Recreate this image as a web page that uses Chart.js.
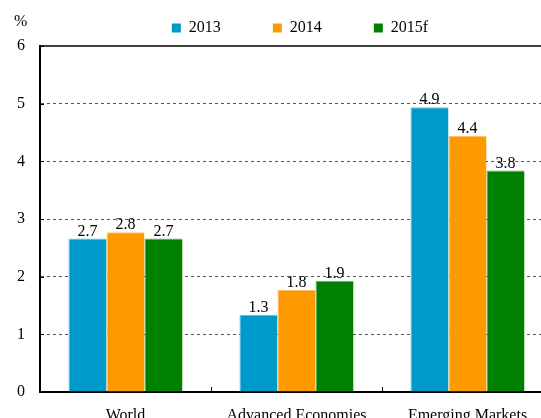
<!DOCTYPE html>
<html>
<head>
<meta charset="utf-8">
<script src="https://cdn.jsdelivr.net/npm/chart.js@4/dist/chart.umd.min.js"></script>
<style>
  html, body { margin: 0; padding: 0; background: #fff; overflow: hidden; }
  #wrap { position: relative; width: 600px; height: 418px; }
</style>
</head>
<body>
<div id="wrap"><canvas id="chart"></canvas></div>
<script>
// data
const categories = ['World', 'Advanced Economies', 'Emerging Markets'];
const seriesNames = ['2013', '2014', '2015f'];
const values2013 = [2.66, 1.34, 4.94];
const values2014 = [2.77, 1.77, 4.44];
const values2015 = [2.66, 1.93, 3.84];
const yTicks = [0, 1, 2, 3, 4, 5, 6];

const colors = ['#0099CC', '#FF9900', '#008000'];
const edgeColors = ['#66c2e0', '#ffc266', '#66b366'];
const serif = "'Liberation Serif', 'Times New Roman', serif";

// labels above bars, inner tick marks, top frame line and the % sign
const extras = {
    id: 'extras',
    afterDatasetsDraw(chart) {
        const ctx = chart.ctx;
        const area = chart.chartArea;
        const x = chart.scales.x;
        const y = chart.scales.y;

        ctx.save();
        ctx.fillStyle = '#000';
        ctx.font = '16px ' + serif;
        ctx.textAlign = 'center';
        ctx.textBaseline = 'bottom';
        chart.data.datasets.forEach((ds, i) => {
            const meta = chart.getDatasetMeta(i);
            meta.data.forEach((bar, j) => {
                ctx.fillText(ds.data[j].toFixed(1), bar.x, bar.y + 1);
            });
        });

        // top frame
        ctx.strokeStyle = '#000';
        ctx.lineWidth = 1.5;
        ctx.beginPath();
        ctx.moveTo(area.left, y.getPixelForValue(6));
        ctx.lineTo(area.right, y.getPixelForValue(6));
        ctx.stroke();

        // inward ticks on the y axis
        ctx.lineWidth = 1;
        yTicks.forEach(v => {
            const py = Math.round(y.getPixelForValue(v)) + 0.5;
            ctx.beginPath();
            ctx.moveTo(area.left, py);
            ctx.lineTo(area.left + 4, py);
            ctx.stroke();
        });

        // category separators on the x axis
        for (let i = 1; i < categories.length; i++) {
            const px = Math.round((x.getPixelForValue(i - 1) + x.getPixelForValue(i)) / 2) + 0.5;
            ctx.beginPath();
            ctx.moveTo(px, area.bottom);
            ctx.lineTo(px, area.bottom - 5);
            ctx.stroke();
        }

        ctx.font = '16px ' + serif;
        ctx.textAlign = 'left';
        ctx.textBaseline = 'alphabetic';
        ctx.fillText('%', area.left - 26, area.top - 20);
        ctx.restore();
    }
};

new Chart(document.getElementById('chart'), {
    type: 'bar',
    data: {
        labels: categories,
        datasets: seriesNames.map((name, i) => ({
            label: name,
            data: [values2013, values2014, values2015][i],
            backgroundColor: colors[i],
            borderColor: edgeColors[i],
            borderWidth: { top: 1, left: 1, right: 0, bottom: 0 }
        }))
    },
    options: {
        responsive: true,
        maintainAspectRatio: false,
        animation: false,
        layout: { padding: { left: 0, right: 0, top: -32, bottom: 0 } },
        datasets: {
            bar: { categoryPercentage: 0.667, barPercentage: 1.0 }
        },
        plugins: {
            legend: {
                position: 'top',
                labels: {
                    boxWidth: 9,
                    boxHeight: 9,
                    padding: 52,
                    color: '#000',
                    font: { family: serif, size: 16 },
                    generateLabels: function(chart) {
                        return chart.data.datasets.map((ds, i) => ({
                            text: ds.label,
                            fillStyle: colors[i],
                            strokeStyle: colors[i],
                            lineWidth: 0,
                            fontColor: '#000',
                            datasetIndex: i
                        }));
                    }
                }
            },
            tooltip: { enabled: false }
        },
        scales: {
            x: {
                afterFit: function(scale) { scale.height = 26; },
                grid: { display: false, drawTicks: false },
                border: { display: true, color: '#000', width: 2 },
                ticks: {
                    color: '#000',
                    padding: 14,
                    maxRotation: 0,
                    font: { family: serif, size: 16 }
                }
            },
            y: {
                min: 0,
                max: 6,
                afterFit: function(scale) { scale.width = 40; },
                afterBuildTicks: function(scale) { scale.ticks = yTicks.map(v => ({ value: v })); },
                grid: {
                    drawTicks: false,
                    color: ctx => (ctx.tick && (ctx.tick.value === 0 || ctx.tick.value === 6)) ? 'rgba(0,0,0,0)' : '#555',
                    lineWidth: 1
                },
                border: { display: true, color: '#000', width: 2, dash: [3, 3] },
                ticks: {
                    color: '#000',
                    padding: 15,
                    font: { family: serif, size: 16 }
                }
            },
            // empty space on the right, the plot runs past the picture's edge
            yRight: {
                position: 'right',
                afterFit: function(scale) { scale.width = 47; },
                grid: { display: false, drawTicks: false },
                border: { display: false },
                ticks: { display: false }
            }
        }
    },
    plugins: [extras]
});
</script>
</body>
</html>
